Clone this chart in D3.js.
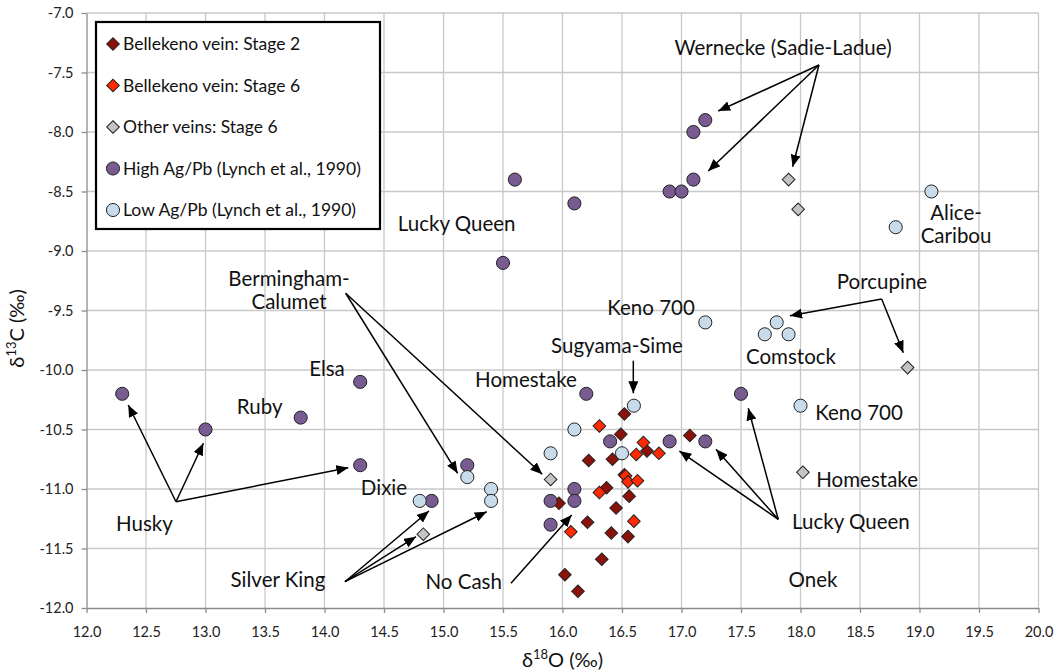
<!DOCTYPE html>
<html>
<head>
<meta charset="utf-8">
<script src="https://cdn.jsdelivr.net/npm/d3@7"></script>
<style>
  html, body { margin: 0; padding: 0; background: #fff; }
  svg { display: block; font-family: Lato, "Open Sans", sans-serif; }
</style>
</head>
<body>
<svg id="chart" width="1057" height="672"></svg>
<script>
// Isotope data: [δ18O, δ13C] in per mil
const bellekenoStage2 = [
  [16.52, -10.37], [16.49, -10.54], [17.07, -10.55], [16.71, -10.68], [16.22, -10.76],
  [16.42, -10.75], [16.52, -10.88], [16.37, -10.99], [16.56, -11.06], [15.97, -11.12],
  [16.45, -11.16], [16.21, -11.28], [16.41, -11.37], [16.55, -11.40], [16.33, -11.59],
  [16.02, -11.72], [16.13, -11.86]
];
const bellekenoStage6 = [
  [16.31, -10.47], [16.68, -10.61], [16.62, -10.71], [16.81, -10.70], [16.53, -10.89],
  [16.55, -10.94], [16.63, -10.93], [16.31, -11.03], [16.60, -11.27], [16.07, -11.36]
];
const otherStage6 = [
  [17.90, -8.40], [17.98, -8.65], [18.90, -9.98], [18.02, -10.86], [14.83, -11.38], [15.90, -10.92]
];
const highAgPb = [
  [12.3, -10.2], [13.0, -10.5], [13.8, -10.4], [14.3, -10.1], [14.3, -10.8], [14.9, -11.1],
  [15.2, -10.8], [15.5, -9.1], [15.6, -8.4], [15.9, -11.1], [15.9, -11.3], [16.1, -8.6],
  [16.1, -11.0], [16.1, -11.1], [16.2, -10.2], [16.4, -10.6], [16.9, -8.5], [16.9, -10.6],
  [17.0, -8.5], [17.1, -8.0], [17.1, -8.4], [17.2, -7.9], [17.2, -10.6], [17.5, -10.2]
];
const lowAgPb = [
  [14.8, -11.1], [15.2, -10.9], [15.4, -11.0], [15.4, -11.1], [15.9, -10.7], [16.1, -10.5],
  [16.5, -10.7], [16.6, -10.3], [17.2, -9.6], [17.7, -9.7], [17.8, -9.6], [17.9, -9.7],
  [18.0, -10.3], [18.8, -8.8], [19.1, -8.5]
];

const seriesNames = [
  "Bellekeno vein: Stage 2",
  "Bellekeno vein: Stage 6",
  "Other veins: Stage 6",
  "High Ag/Pb (Lynch et al., 1990)",
  "Low Ag/Pb (Lynch et al., 1990)"
];

const xTicks = [12.0, 12.5, 13.0, 13.5, 14.0, 14.5, 15.0, 15.5, 16.0, 16.5, 17.0, 17.5, 18.0, 18.5, 19.0, 19.5, 20.0];
const yTicks = [-7.0, -7.5, -8.0, -8.5, -9.0, -9.5, -10.0, -10.5, -11.0, -11.5, -12.0];

// Deposit labels: text lines and anchor [δ18O, δ13C]
const depositLabels = [
  { lines: ["Wernecke (Sadie-Ladue)"], at: [17.853, -7.29] },
  { lines: ["Alice-", "Caribou"], at: [19.307, -8.68] },
  { lines: ["Porcupine"], at: [18.685, -9.26] },
  { lines: ["Comstock"], at: [17.92, -9.89] },
  { lines: ["Keno 700"], at: [18.492, -10.36] },
  { lines: ["Homestake"], at: [18.56, -10.92] },
  { lines: ["Lucky Queen"], at: [18.424, -11.28] },
  { lines: ["Onek"], at: [18.105, -11.76] },
  { lines: ["Keno 700"], at: [16.744, -9.48] },
  { lines: ["Sugyama-Sime"], at: [16.458, -9.80] },
  { lines: ["Homestake"], at: [15.693, -10.08] },
  { lines: ["Lucky Queen"], at: [15.111, -8.77] },
  { lines: ["Bermingham-", "Calumet"], at: [13.702, -9.23] },
  { lines: ["Elsa"], at: [14.021, -9.99] },
  { lines: ["Ruby"], at: [13.455, -10.31] },
  { lines: ["Husky"], at: [12.487, -11.29] },
  { lines: ["Dixie"], at: [14.50, -10.99] },
  { lines: ["Silver King"], at: [13.609, -11.76] },
  { lines: ["No Cash"], at: [15.17, -11.78] }
];

// Pointer arrows: [from, to] in data units
const pointerArrows = [
  [[18.155, -7.437], [17.309, -7.824]],
  [[18.155, -7.437], [17.225, -8.328]],
  [[18.155, -7.437], [17.934, -8.292]],
  [[18.682, -9.403], [17.912, -9.544]],
  [[18.682, -9.403], [18.864, -9.855]],
  [[17.813, -11.255], [17.561, -10.322]],
  [[17.813, -11.255], [17.29, -10.666]],
  [[17.813, -11.255], [16.982, -10.681]],
  [[16.595, -9.922], [16.595, -10.196]],
  [[14.178, -9.355], [15.119, -10.868]],
  [[14.178, -9.355], [15.83, -10.876]],
  [[12.752, -11.107], [12.351, -10.294]],
  [[12.752, -11.107], [12.982, -10.616]],
  [[12.752, -11.107], [14.20, -10.821]],
  [[14.172, -11.779], [14.878, -11.185]],
  [[14.172, -11.779], [14.769, -11.401]],
  [[14.172, -11.779], [15.363, -11.191]],
  [[15.567, -11.792], [16.077, -11.218]]
];

const svg = d3.select("#chart");

const x = d3.scaleLinear().domain([12, 20]).range([86.5, 1038.5]);
const y = d3.scaleLinear().domain([-12, -7]).range([608, 13]);

// Grid
const grid = svg.append("g").attr("stroke", "#c8c8c8").attr("stroke-width", 1.3);
grid.selectAll("line.v").data(xTicks.slice(1)).join("line")
  .attr("x1", d => x(d)).attr("x2", d => x(d))
  .attr("y1", y(-12)).attr("y2", y(-7));
grid.selectAll("line.h").data(yTicks.slice(0, -1)).join("line")
  .attr("x1", x(12)).attr("x2", x(20))
  .attr("y1", d => y(d)).attr("y2", d => y(d));

// Axes
const xAxis = svg.append("g")
  .attr("transform", `translate(0,${y(-12)})`)
  .call(d3.axisBottom(x).tickValues(xTicks).tickFormat(d3.format(".1f")).tickSizeInner(5).tickSizeOuter(0).tickPadding(12));
const yAxis = svg.append("g")
  .attr("transform", `translate(${x(12)},0)`)
  .call(d3.axisLeft(y).tickValues(yTicks).tickFormat(d => d3.format(".1f")(d).replace("\u2212", "-")).tickSizeInner(5).tickSizeOuter(0).tickPadding(8));
[xAxis, yAxis].forEach(a => {
  a.select(".domain").attr("stroke", "#8c8c8c").attr("stroke-width", 1.3);
  a.selectAll(".tick line").attr("stroke", "#8c8c8c").attr("stroke-width", 1.3);
  a.selectAll(".tick text").attr("fill", "#222").style("font-size", "14.5px").style("font-family", "Lato, sans-serif");
});
xAxis.selectAll(".tick text").attr("dy", "0.35em").attr("y", 24);

// Axis titles
const xTitle = svg.append("text")
  .attr("x", (x(12) + x(20)) / 2).attr("y", 667)
  .attr("text-anchor", "middle").attr("fill", "#111")
  .style("font-size", "20px");
xTitle.append("tspan").text("δ");
xTitle.append("tspan").attr("dy", -8).style("font-size", "13px").text("18");
xTitle.append("tspan").attr("dy", 8).text("O (‰)");

const yTitle = svg.append("text")
  .attr("transform", `translate(24,${y(-9.65)}) rotate(-90)`)
  .attr("text-anchor", "middle").attr("fill", "#111")
  .style("font-size", "20px");
yTitle.append("tspan").text("δ");
yTitle.append("tspan").attr("dy", -8).style("font-size", "13px").text("13");
yTitle.append("tspan").attr("dy", 8).text("C (‰)");

// Arrowhead marker
svg.append("defs").append("marker")
  .attr("id", "head")
  .attr("markerUnits", "userSpaceOnUse")
  .attr("markerWidth", 14).attr("markerHeight", 10)
  .attr("refX", 12).attr("refY", 5)
  .attr("orient", "auto")
  .append("path").attr("d", "M0,0 L12,5 L0,10 Z").attr("fill", "#000");

// Pointer arrows
svg.append("g").selectAll("line").data(pointerArrows).join("line")
  .attr("x1", d => x(d[0][0])).attr("y1", d => y(d[0][1]))
  .attr("x2", d => x(d[1][0])).attr("y2", d => y(d[1][1]))
  .attr("stroke", "#000").attr("stroke-width", 1.5)
  .attr("marker-end", "url(#head)");

// Marker styles per series
const styles = [
  { data: bellekenoStage2, shape: "diamond", fill: "#8b1109" },
  { data: bellekenoStage6, shape: "diamond", fill: "#ff2a00" },
  { data: otherStage6, shape: "diamond", fill: "#c4c4c4" },
  { data: highAgPb, shape: "circle", fill: "#775b91" },
  { data: lowAgPb, shape: "circle", fill: "#c7dbeb" }
];
const diamond = d3.symbol().type(d3.symbolSquare).size(80);
const circle = d3.symbol().type(d3.symbolCircle).size(135);

function drawMarker(sel, st) {
  if (st.shape === "diamond") {
    sel.append("path").attr("d", diamond()).attr("transform", "rotate(45)")
      .attr("fill", st.fill).attr("stroke", "#222").attr("stroke-width", 1);
  } else {
    sel.append("path").attr("d", circle())
      .attr("fill", st.fill).attr("stroke", "#222").attr("stroke-width", 1);
  }
}

const pts = svg.append("g");
styles.forEach(st => {
  pts.append("g").selectAll("g").data(st.data).join("g")
    .attr("transform", d => `translate(${x(d[0])},${y(d[1])})`)
    .each(function () { drawMarker(d3.select(this), st); });
});

// Deposit labels
const lbl = svg.append("g").attr("fill", "#111").style("font-size", "20.5px").attr("text-anchor", "middle");
depositLabels.forEach(l => {
  const t = lbl.append("text")
    .attr("x", x(l.at[0]))
    .attr("y", y(l.at[1]));
  l.lines.forEach((s, i) => {
    t.append("tspan").attr("x", x(l.at[0])).attr("dy", i === 0 ? "0.35em" : 23).text(s);
  });
});

// Legend
const legend = svg.append("g");
legend.append("rect")
  .attr("x", 96).attr("y", 22).attr("width", 284).attr("height", 207)
  .attr("fill", "#fff").attr("stroke", "#000").attr("stroke-width", 2.2);
styles.forEach((st, i) => {
  const row = legend.append("g").attr("transform", `translate(113,${44 + i * 41.5})`);
  drawMarker(row, st);
  row.append("text").attr("x", 10).attr("dy", "0.35em")
    .attr("fill", "#111").style("font-size", "17.5px").text(seriesNames[i]);
});
</script>
</body>
</html>
